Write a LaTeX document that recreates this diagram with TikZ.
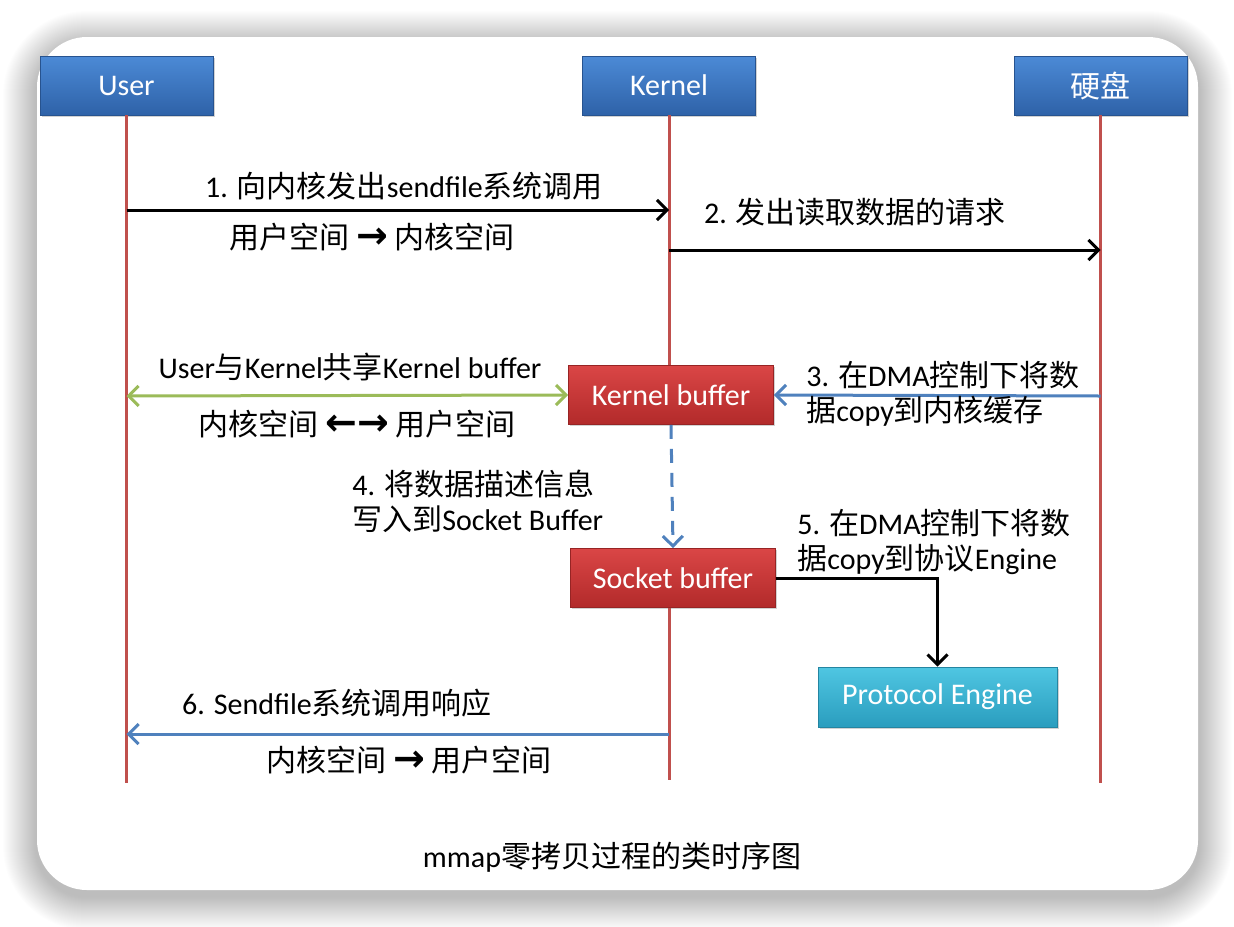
\documentclass[tikz,border=0pt]{standalone}
\usepackage{fontspec}
\setmainfont{Carlito}
\newfontfamily\cjk{Noto Sans CJK SC}
\newfontfamily\arrowfont{DejaVu Sans}
\usepackage{xcolor}
\usetikzlibrary{arrows.meta,shadows}

\newcommand{\zh}[1]{{\cjk #1}}
\newcommand{\rarr}{{\arrowfont\bfseries\fontsize{19}{19}\selectfont →}}
\newcommand{\larr}{{\arrowfont\bfseries\fontsize{19}{19}\selectfont ←}}

\definecolor{actorTop}{HTML}{4C8AD6}
\definecolor{actorBot}{HTML}{2E62A8}
\definecolor{bufTop}{HTML}{DA4646}
\definecolor{bufBot}{HTML}{B22A2A}
\definecolor{engTop}{HTML}{4FC6E2}
\definecolor{engBot}{HTML}{2A9DBE}
\definecolor{lifeRed}{HTML}{C0504D}
\definecolor{msgBlue}{HTML}{4F81BD}
\definecolor{shareGreen}{HTML}{9BBB59}

\begin{document}
\begin{tikzpicture}[
    x=0.5pt, y=-0.5pt,
    font=\fontsize{15}{17.5}\selectfont,
    >={Straight Barb[length=5pt,width=10pt]},
    actor/.style={
        rectangle,
        minimum width=86.5pt,
        minimum height=29.5pt,
        top color=actorTop,
        bottom color=actorBot,
        draw=actorBot!85!black,
        line width=0.4pt,
        text=white,
        drop shadow={opacity=0.35, shadow xshift=0.8pt, shadow yshift=-0.8pt}
    },
    bufferbox/.style={
        actor,
        minimum width=102.5pt,
        top color=bufTop,
        bottom color=bufBot,
        draw=bufBot!85!black
    },
    enginebox/.style={
        actor,
        minimum width=119.5pt,
        minimum height=30pt,
        top color=engTop,
        bottom color=engBot,
        draw=engBot!85!black
    },
    lifeline/.style={draw=lifeRed, line width=1.5pt},
    msg/.style={->, line width=1.5pt},
    lab/.style={inner sep=0pt, align=left}
]

\useasboundingbox (0,0) rectangle (1234,926);

\foreach \s [evaluate=\s as \r using 25+\s/2] in {1,...,34}
    \fill[black, opacity=0.0065, rounded corners=\r pt]
        (37-\s,45-\s) rectangle (1198+\s,896+\s);
\fill[white, rounded corners=25pt] (37,37) rectangle (1198,890);

\node[actor] (user) at (126.5,85.5) {User};
\node[actor] (kernel) at (669,85.5) {Kernel};
\node[actor] (disk) at (1100.5,85.5) {\zh{硬盘}};

\node[bufferbox] (kbuf) at (671,395) {Kernel buffer};
\node[bufferbox] (sbuf) at (673,578) {Socket buffer};
\node[enginebox] (engine) at (937.5,697) {Protocol Engine};

\coordinate (userEnd) at (126.5,783);
\coordinate (kernelEnd) at (669,780);
\coordinate (diskEnd) at (1100.5,783);

\draw[lifeline] (user.south) -- (userEnd);
\draw[lifeline] (kernel.south) -- (kernel.south |- kbuf.north);
\draw[lifeline] (sbuf.south -| kernelEnd) -- (kernelEnd);
\draw[lifeline] (disk.south) -- (diskEnd);

\coordinate (callUser) at (126.5,210);
\coordinate (callKernel) at (669,210);
\coordinate (readKernel) at (669,250);
\coordinate (readDisk) at (1100.5,250);
\coordinate (dmaDisk) at (1100.5,396);
\coordinate (shareUser) at (126.5,396);
\coordinate (backKernel) at (669,734);
\coordinate (backUser) at (126.5,734);

\draw[msg] (callUser) -- (callKernel);
\draw[msg] (readKernel) -- (readDisk);
\draw[msg, draw=msgBlue] (dmaDisk) -- (kbuf.east);
\draw[msg, <->, draw=shareGreen] (shareUser) -- (kbuf.west);
\draw[msg, draw=msgBlue, dash pattern=on 7pt off 5pt] (kbuf.south) -- (sbuf.north);
\draw[msg] (sbuf.east) -| (engine.north);
\draw[msg, draw=msgBlue] (backKernel) -- (backUser);

\node (callText) at (404,186) {1. \zh{向内核发出}sendfile\zh{系统调用}};
\node (callSpace) at (372,237) {\zh{用户空间} \rarr\ \zh{内核空间}};
\node (readText) at (855,212) {2. \zh{发出读取数据的请求}};
\node[lab, anchor=west] (dmaText) at (806,394)
    {3. \zh{在}DMA\zh{控制下将数}\\\zh{据}copy\zh{到内核缓存}};
\node (shareText) at (350,367) {User\zh{与}Kernel\zh{共享}Kernel buffer};
\node (shareSpace) at (357,424) {\zh{内核空间} \larr\rarr\ \zh{用户空间}};
\node[lab, anchor=west] (descText) at (352,501)
    {4. \zh{将数据描述信息}\\\zh{写入到}Socket Buffer};
\node[lab, anchor=west] (engineText) at (797,542)
    {5. \zh{在}DMA\zh{控制下将数}\\\zh{据}copy\zh{到协议}Engine};
\node (backText) at (337,703) {6. Sendfile\zh{系统调用响应}};
\node (backSpace) at (409,760) {\zh{内核空间} \rarr\ \zh{用户空间}};

\node (caption) at (612,857) {mmap\zh{零拷贝过程的类时序图}};

\end{tikzpicture}
\end{document}
